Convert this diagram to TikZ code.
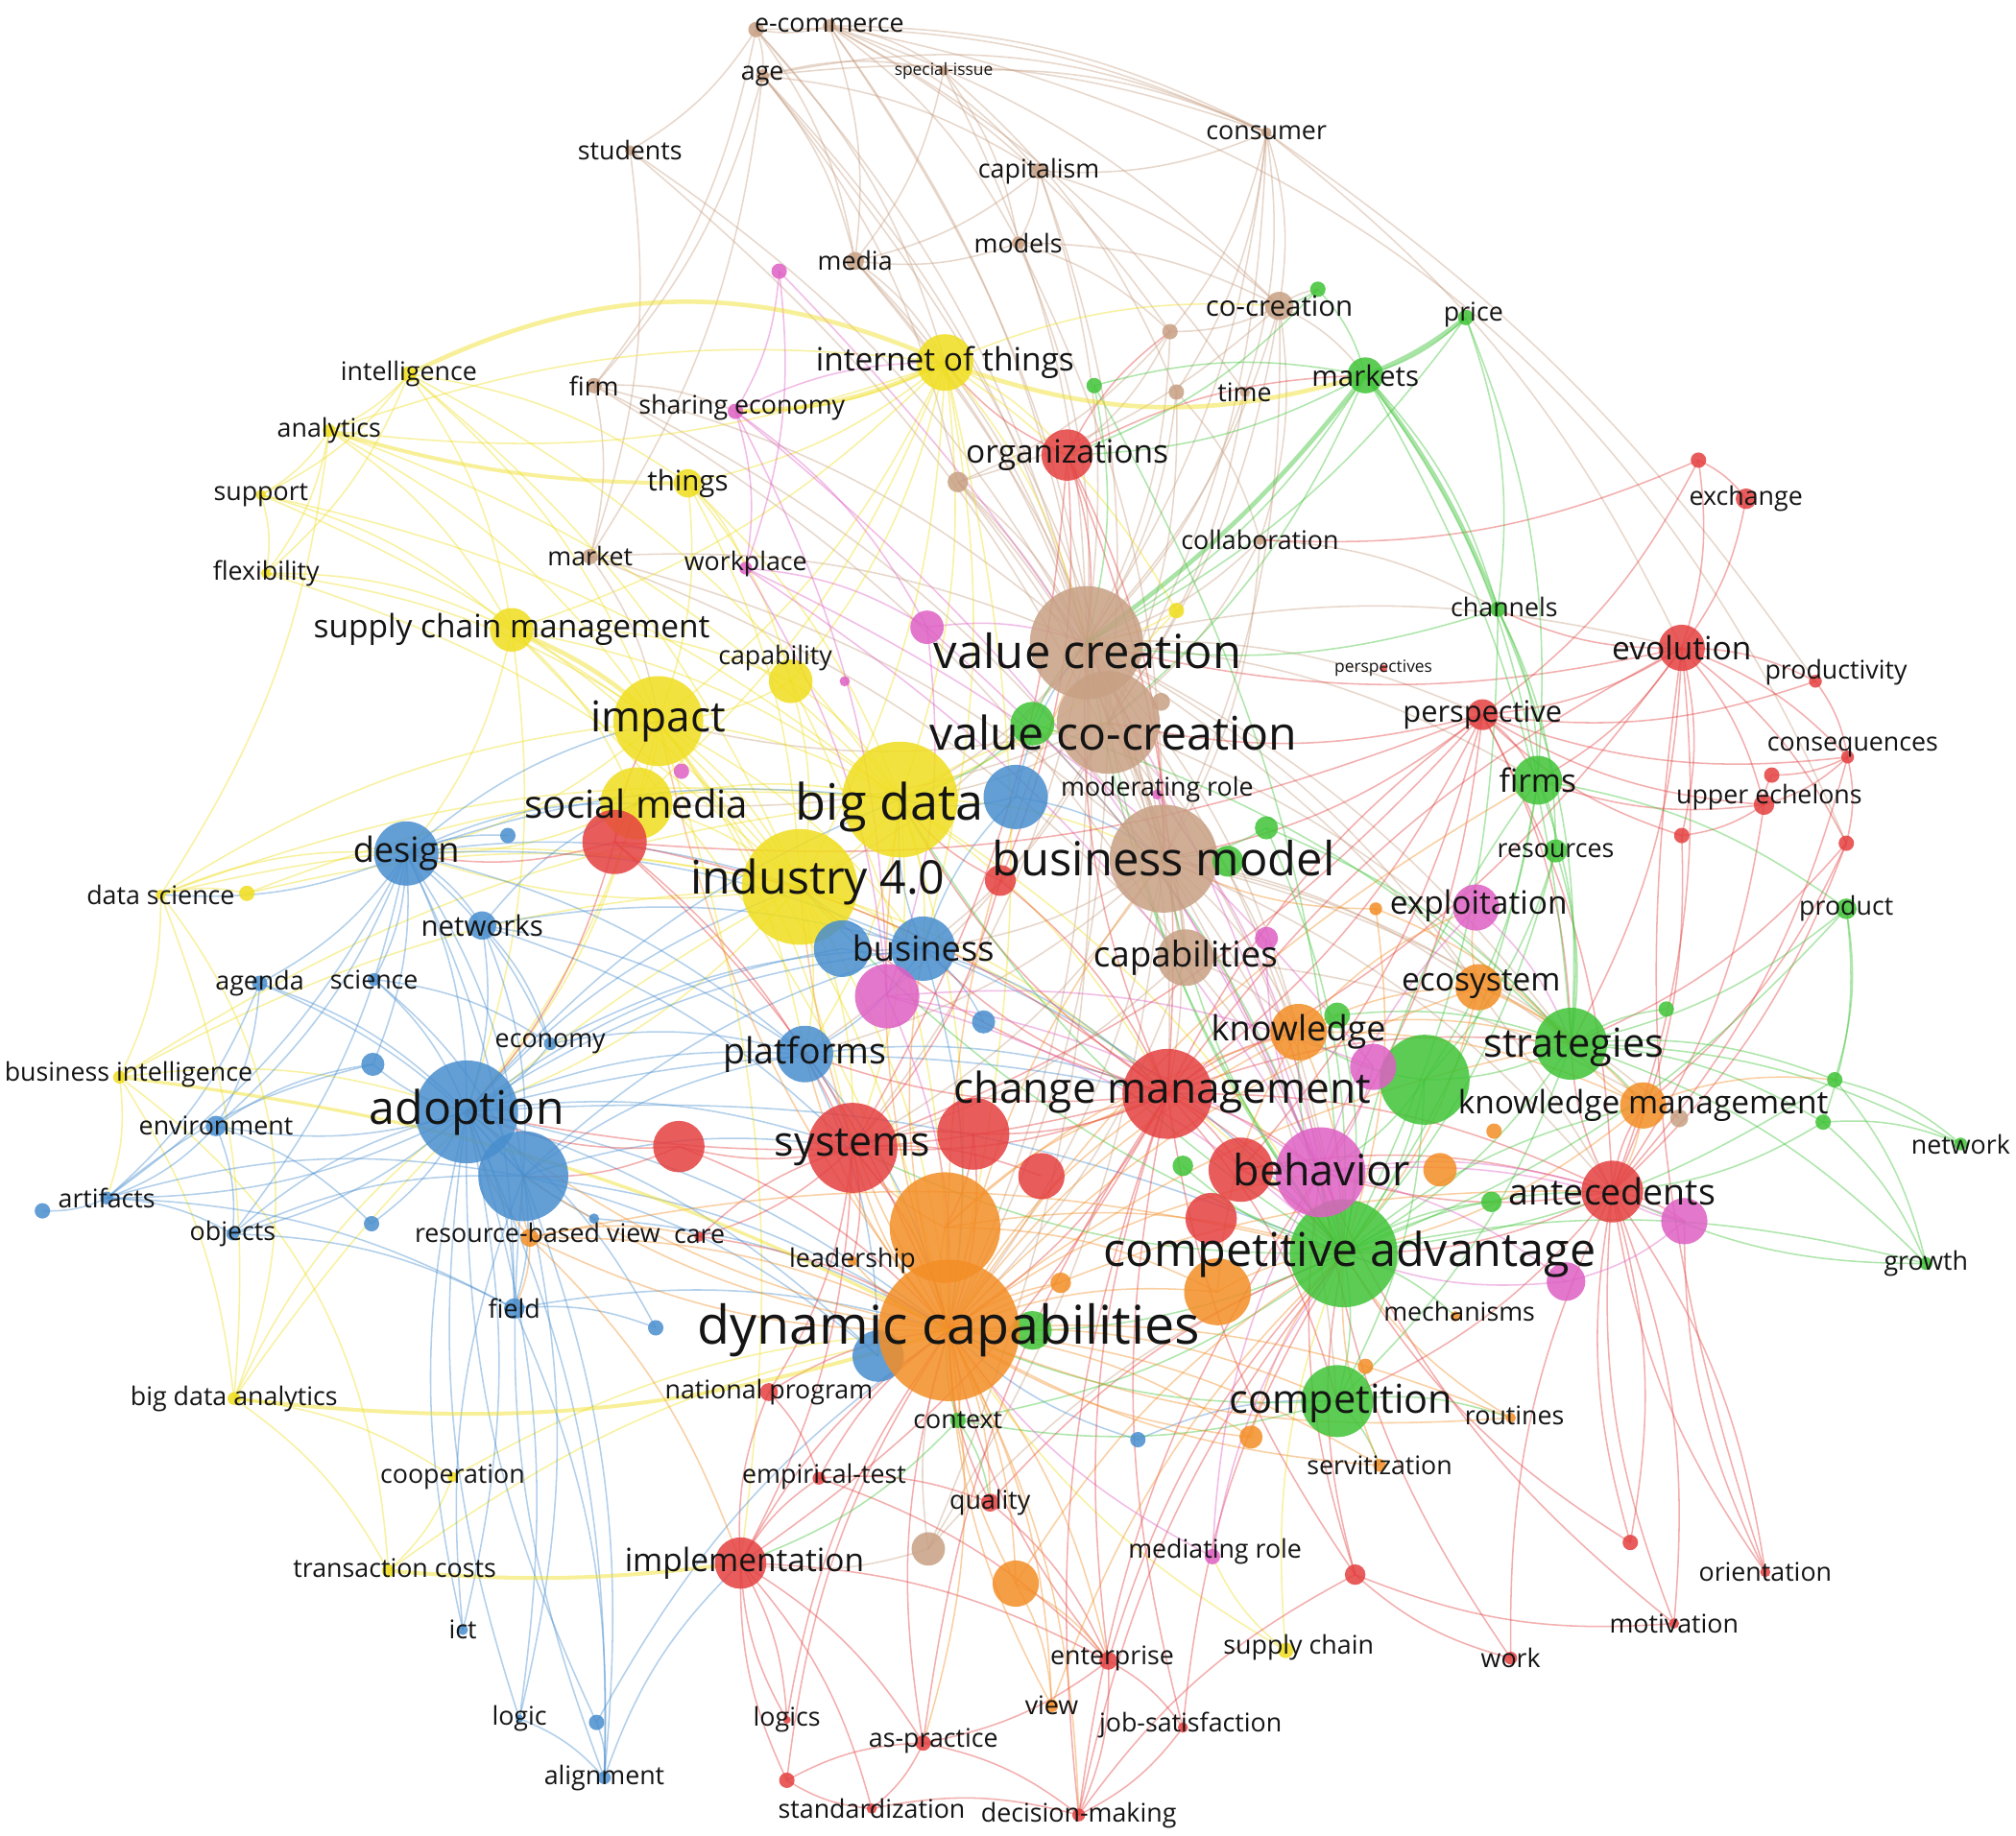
\documentclass[tikz,border=0pt]{standalone}
\usepackage{fontspec}
\setmainfont{Open Sans}
\definecolor{cR}{RGB}{228,64,64}
\definecolor{cG}{RGB}{64,196,56}
\definecolor{cB}{RGB}{72,142,206}
\definecolor{cY}{RGB}{240,222,30}
\definecolor{cM}{RGB}{222,96,196}
\definecolor{cO}{RGB}{243,142,38}
\definecolor{cN}{RGB}{200,160,132}
\pgfdeclarelayer{bg}\pgfdeclarelayer{fg}\pgfsetlayers{bg,main,fg}
\tikzset{
 vdot/.style={circle, inner sep=0pt, fill opacity=0.85, draw=none},
 lbl/.style={inner sep=0pt, text=black!92},
 lnk/.style={draw=#1, draw opacity=0.42, line width=1.15pt},
}
\newcommand\vc[5]{\node[vdot, fill=#5, minimum size={2*#4}] (#1) at (#2,#3) {};}
\newcommand\vl[5]{\begin{pgfonlayer}{fg}\node[lbl, font=\fontsize{#4}{#4}\selectfont] (#1) at (#2,#3) {#5};\end{pgfonlayer}}
\newcommand\vn[7]{\vc{#1}{#2}{#3}{#4}{#5}\vl{#1l}{#2}{#3}{#6}{#7}}
\newcommand\ed[3]{\begin{pgfonlayer}{bg}\foreach \tg in {#3} {\draw[lnk=#1] (#2.center) to[bend left=13] (\tg.center);}\end{pgfonlayer}}
\newcommand\thk[5]{\begin{pgfonlayer}{bg}\draw[lnk=#1, line width=#5, draw opacity=0.45] (#2.center) to[bend left=#4] (#3.center);\end{pgfonlayer}}
\newcommand\arc[4]{\begin{pgfonlayer}{bg}\draw[lnk=#1] (#2.center) to[bend left=#4] (#3.center);\end{pgfonlayer}}
\begin{document}
\begin{tikzpicture}[x=1pt,y=-1pt]
\begin{pgfonlayer}{bg}
\fill[white] (0,0) rectangle (1568,1428);
\end{pgfonlayer}
\useasboundingbox (0,0) rectangle (1568,1428);
% ---------- brown
\vc{b2}{588}{23}{6}{cN}
\vn{ecom}{645}{20}{5}{cN}{20}{e-commerce}
\vn{age}{593}{59}{5}{cN}{20}{age}
\vn{spec}{734}{55}{4}{cN}{13}{special-issue}
\vn{students}{490}{117}{4}{cN}{20}{students}
\vn{consumer}{985}{103}{4}{cN}{20}{consumer}
\vn{capit}{808}{133}{6}{cN}{20}{capitalism}
\vn{models}{792}{189}{5}{cN}{20}{models}
\vn{media}{665}{203}{7}{cN}{20}{media}
\vn{cocr}{995}{238}{11}{cN}{22}{co-creation}
\vc{b11}{910}{258}{6}{cN}
\vc{b12}{915}{305}{6}{cN}
\vn{time}{968}{305}{4}{cN}{20}{time}
\vn{firm}{462}{300}{6}{cN}{20}{firm}
\vn{market}{459}{433}{6}{cN}{20}{market}
\vc{b16}{745}{375}{8}{cN}
\vn{collab}{980}{420}{4}{cN}{20}{collaboration}
\vc{vc}{845}{500}{44}{cN}\vl{vcl}{846}{506}{36.5}{value creation}
\vc{vcc}{862}{562}{40}{cN}\vl{vccl}{866}{570}{36}{value co-creation}
\vc{b20}{903}{546}{7}{cN}
\vn{bm}{905}{668}{42}{cN}{36.5}{business model}
\vn{capab}{922}{745}{22}{cN}{27.5}{capabilities}
\vc{b23}{722}{1205}{13}{cN}
\vc{b24}{1306}{870}{7}{cN}
% ---------- yellow
\vn{iot}{735}{282}{22}{cY}{25}{internet of things}
\vn{intel}{318}{291}{6}{cY}{20}{intelligence}
\vn{analyt}{256}{335}{5}{cY}{20}{analytics}
\vn{support}{203}{385}{4}{cY}{20}{support}
\vn{flex}{207}{446}{4}{cY}{20}{flexibility}
\vn{things}{535}{376}{11}{cY}{22}{things}
\vn{scm}{398}{490}{17}{cY}{25}{supply chain management}
\vc{capy}{615}{530}{17}{cY}\vl{capyl}{603}{512}{20}{capability}
\vc{y9}{915}{475}{6}{cY}
\vn{impact}{512}{561}{35}{cY}{33}{impact}
\vn{smedia}{495}{625}{28}{cY}{30}{social media}
\vc{bigdata}{700}{622}{45}{cY}\vl{bigdatal}{692}{628}{39}{big data}
\vc{ind}{622}{690}{45}{cY}\vl{indl}{636}{686}{36}{industry 4.0}
\vn{dsci}{125}{696}{4}{cY}{20}{data science}
\vc{y14}{192}{695}{6}{cY}
\vc{bi}{93}{838}{5}{cY}\vl{bil}{100}{836}{20}{business intelligence}
\vn{bda}{182}{1088}{5}{cY}{20}{big data analytics}
\vn{coop}{352}{1149}{4}{cY}{20}{cooperation}
\vc{tc}{302}{1222}{5}{cY}\vl{tcl}{307}{1220}{20}{transaction costs}
\vc{sc}{1000}{1284}{6}{cY}\vl{scl}{1010}{1282}{20}{supply chain}
% ---------- blue
\vn{design}{316}{664}{25}{cB}{27}{design}
\vc{u2}{395}{650}{6}{cB}
\vn{netw}{375}{720}{11}{cB}{22}{networks}
\vn{agenda}{202}{765}{6}{cB}{20}{agenda}
\vn{science}{291}{762}{5}{cB}{20}{science}
\vn{economy}{428}{812}{5}{cB}{20}{economy}
\vc{u7}{290}{828}{9}{cB}
\vn{adoption}{363}{865}{40}{cB}{36}{adoption}
\vc{u9}{407}{915}{35}{cB}
\vn{env}{168}{876}{8}{cB}{20}{environment}
\vn{artif}{83}{932}{5}{cB}{20}{artifacts}
\vc{u12}{33}{942}{6}{cB}
\vn{objects}{181}{960}{5}{cB}{20}{objects}
\vc{u14}{289}{952}{6}{cB}
\vn{field}{400}{1018}{8}{cB}{20}{field}
\vc{u16}{462}{948}{4}{cB}
\vc{u17}{510}{1033}{6}{cB}
\vc{u18}{683}{1055}{20}{cB}
\vc{u20}{655}{738}{22}{cB}
\vn{business}{718}{738}{25}{cB}{27}{business}
\vc{u21}{790}{620}{25}{cB}
\vn{platf}{626}{820}{22}{cB}{28}{platforms}
\vc{u23}{765}{795}{9}{cB}
\vc{u24}{885}{1120}{6}{cB}
\vn{ict}{360}{1268}{4}{cB}{20}{ict}
\vn{logic}{404}{1337}{3}{cB}{20}{logic}
\vc{u27}{464}{1340}{6}{cB}
\vn{align}{470}{1383}{5}{cB}{20}{alignment}
% ---------- red
\vn{orgs}{830}{354}{20}{cR}{25}{organizations}
\vc{r2}{1321}{358}{6}{cR}
\vn{exch}{1358}{388}{8}{cR}{20}{exchange}
\vn{evol}{1308}{504}{18}{cR}{25}{evolution}
\vc{prod}{1412}{530}{5}{cR}\vl{prodl}{1428}{523}{20}{productivity}
\vc{conseq}{1437}{589}{5}{cR}\vl{conseql}{1441}{581}{20}{consequences}
\vc{r7}{1378}{603}{6}{cR}
\vc{upper}{1372}{626}{8}{cR}\vl{upperl}{1376}{620}{20}{upper echelons}
\vc{r8a}{1308}{650}{6}{cR}
\vc{r8b}{1436}{656}{6}{cR}
\vn{persp}{1153}{556}{12}{cR}{23}{perspective}
\vn{persps}{1076}{520}{3}{cR}{13}{perspectives}
\vc{r11}{478}{655}{25}{cR}
\vc{r12}{778}{685}{12}{cR}
\vc{chm}{908}{851}{35}{cR}\vl{chml}{904}{850}{33}{change management}
\vn{systems}{663}{893}{35}{cR}{32}{systems}
\vc{r15}{528}{892}{20}{cR}
\vc{r16}{757}{882}{28}{cR}
\vc{r16b}{810}{915}{18}{cR}
\vc{r17}{965}{910}{25}{cR}
\vc{r17b}{942}{948}{20}{cR}
\vn{antec}{1254}{927}{24}{cR}{28}{antecedents}
\vc{impl}{576}{1216}{20}{cR}\vl{impll}{579}{1216}{25}{implementation}
\vn{natp}{598}{1083}{7}{cR}{20}{national program}
\vc{empt}{637}{1150}{5}{cR}\vl{emptl}{641}{1149}{20}{empirical-test}
\vn{quality}{770}{1169}{7}{cR}{20}{quality}
\vc{enterp}{862}{1292}{7}{cR}\vl{enterpl}{865}{1290}{20}{enterprise}
\vc{jobs}{920}{1344}{4}{cR}\vl{jobsl}{926}{1342}{20}{job-satisfaction}
\vc{aspr}{718}{1356}{6}{cR}\vl{asprl}{726}{1354}{20}{as-practice}
\vn{logics}{612}{1338}{3}{cR}{20}{logics}
\vc{r26b}{612}{1385}{6}{cR}
\vn{stand}{678}{1407}{4}{cR}{20}{standardization}
\vn{decm}{839}{1412}{5}{cR}{20}{decision-making}
\vn{work}{1175}{1290}{5}{cR}{20}{work}
\vn{motiv}{1302}{1263}{4}{cR}{20}{motivation}
\vn{orient}{1373}{1223}{4}{cR}{20}{orientation}
\vc{r31}{1268}{1200}{6}{cR}
\vc{r31b}{1054}{1225}{8}{cR}
\vn{care}{544}{962}{4}{cR}{20}{care}
% ---------- green
\vc{g1}{1025}{225}{6}{cG}
\vc{price}{1140}{247}{6}{cG}\vl{pricel}{1146}{245}{20}{price}
\vc{g3}{851}{300}{6}{cG}
\vn{markets}{1062}{292}{14}{cG}{22}{markets}
\vc{channels}{1165}{474}{6}{cG}\vl{channelsl}{1170}{472}{20}{channels}
\vc{g6}{803}{563}{17}{cG}
\vn{firms}{1196}{607}{19}{cG}{25}{firms}
\vn{resources}{1210}{662}{9}{cG}{20}{resources}
\vc{g9}{985}{644}{9}{cG}
\vc{g9b}{955}{670}{12}{cG}
\vn{product}{1436}{707}{8}{cG}{20}{product}
\vc{g11}{1040}{790}{10}{cG}
\vc{strat}{1222}{812}{28}{cG}\vl{stratl}{1224}{815}{31}{strategies}
\vc{g13}{1108}{840}{35}{cG}
\vc{g14}{1296}{785}{6}{cG}
\vc{g15a}{1427}{840}{6}{cG}
\vc{g15b}{1418}{873}{6}{cG}
\vn{network}{1525}{890}{5}{cG}{20}{network}
\vc{g17}{920}{907}{8}{cG}
\vc{g18}{1160}{935}{8}{cG}
\vc{compadv}{1045}{975}{42}{cG}\vl{compadvl}{1050}{976}{36.2}{competitive advantage}
\vn{growth}{1498}{983}{5}{cG}{20}{growth}
\vc{compet}{1040}{1090}{28}{cG}\vl{competl}{1043}{1092}{31}{competition}
\vn{context}{745}{1105}{6}{cG}{20}{context}
\vc{g23}{803}{1035}{15}{cG}
% ---------- orange
\vn{knowl}{1010}{803}{22}{cO}{27}{knowledge}
\vc{ecos}{1150}{768}{18}{cO}\vl{ecosl}{1152}{766}{25}{ecosystem}
\vc{o3}{1070}{707}{5}{cO}
\vc{dyncap}{738}{1035}{55}{cO}
\vc{o5}{735}{955}{43}{cO}
\vc{o6}{947}{1005}{26}{cO}
\vc{o7}{825}{998}{8}{cO}
\vc{o8}{1120}{910}{13}{cO}
\vc{routines}{1175}{1103}{4}{cO}\vl{routinesl}{1178}{1101}{20}{routines}
\vn{servit}{1073}{1140}{5}{cO}{20}{servitization}
\vc{o11}{973}{1118}{9}{cO}
\vc{o12}{790}{1232}{18}{cO}
\vn{view}{818}{1327}{5}{cO}{20}{view}
\vc{rbv}{412}{963}{7}{cO}\vl{rbvl}{418}{959}{20}{resource-based view}
\vn{kmgmt}{1278}{860}{18}{cO}{25}{knowledge management}
\vc{o16}{1162}{880}{6}{cO}
\vc{mech}{1132}{1024}{4}{cO}\vl{mechl}{1135}{1020}{20}{mechanisms}
\vc{o18}{1062}{1063}{6}{cO}
\vn{leader}{663}{981}{4}{cO}{20}{leadership}
% ---------- magenta
\vc{m1}{606}{211}{6}{cM}
\vc{sharing}{572}{320}{6}{cM}\vl{sharingl}{577}{317}{20}{sharing economy}
\vc{workpl}{580}{442}{5}{cM}\vl{workpll}{580}{439}{20}{workplace}
\vc{m4}{721}{488}{13}{cM}
\vc{m5}{657}{530}{4}{cM}
\vc{m5b}{530}{600}{6}{cM}
\vc{m6}{690}{775}{25}{cM}
\vc{exploit}{1148}{706}{18}{cM}\vl{exploitl}{1150}{705}{25}{exploitation}
\vc{m8}{985}{730}{9}{cM}
\vc{m9}{1068}{830}{18}{cM}
\vc{behav}{1027}{912}{35}{cM}\vl{behavl}{1028}{910}{33.5}{behavior}
\vc{m11}{1310}{950}{18}{cM}
\vc{m12}{1218}{997}{15}{cM}
\vc{medr}{943}{1211}{6}{cM}\vl{medrl}{945}{1207}{20}{mediating role}
\vc{modr}{900}{618}{4}{cM}\vl{modrl}{900}{614}{20}{moderating role}
\vl{dyncapl}{738}{1035}{41.5}{dynamic capabilities}
% ================= edges
% brown
\ed{cN}{ecom}{b2,consumer,capit,models,vc,cocr,b11,time,spec,vcc,media}
\ed{cN}{b2}{age,students,media,firm,consumer,vc,iot}
\ed{cN}{age}{spec,consumer,market,media,vc,b16,capit,firm,bm}
\ed{cN}{spec}{consumer,models,vc,media,b12}
\ed{cN}{students}{market,vc,bm}
\ed{cN}{consumer}{cocr,b11,b12,time,vc,vcc,capit,evol}
\ed{cN}{capit}{models,vc,vcc,media,cocr}
\ed{cN}{models}{media,cocr,vc,bm,b11}
\ed{cN}{media}{vc,vcc,bm,iot}
\ed{cN}{cocr}{vc,vcc,bm,b11,b16,collab,markets,g1}
\ed{cN}{b11}{vc,orgs,b16}
\ed{cN}{b12}{vc,vcc,collab}
\ed{cN}{time}{vc,vcc}
\ed{cN}{firm}{market,vc,bm,sharing,capab}
\ed{cN}{market}{vc,bm,capab,impact}
\ed{cN}{b16}{vc,vcc,bm,capab}
\ed{cN}{collab}{vc,vcc,bm,channels}
\ed{cN}{vc}{vcc,bm,capab,dyncap,compadv,chm,strat,bigdata,ind,persp,evol,firms,knowl,systems,b23,ecos,antec}
\ed{cN}{vcc}{bm,capab,dyncap,compadv,platf,business,bigdata,impact,smedia,knowl,strat}
\ed{cN}{bm}{capab,dyncap,compadv,chm,systems,knowl,strat,antec,ecos,compet,b23,b24,platf,business}
\ed{cN}{capab}{dyncap,compadv,knowl,b24,systems}
\ed{cN}{b23}{dyncap,impl,compadv}
\arc{cN}{ecom}{r8b}{28}
\arc{cN}{consumer}{prod}{10}
\arc{cN}{age}{consumer}{18}
% yellow
\ed{cY}{iot}{things,analyt,sharing,bigdata,ind,impact,smedia,capy,scm,cocr,y9,orgs,business,dyncap,vc}
\ed{cY}{intel}{analyt,support,things,scm,bigdata,impact,ind,flex}
\ed{cY}{analyt}{support,flex,scm,bigdata,impact,iot,dsci}
\ed{cY}{support}{flex,scm,ind,bigdata}
\ed{cY}{flex}{scm,ind,impact}
\ed{cY}{things}{ind,bigdata,impact,capy,workpl}
\ed{cY}{scm}{bigdata,ind,capy,smedia,design,adoption,dyncap}
\ed{cY}{capy}{bigdata,ind,impact,dyncap}
\ed{cY}{impact}{bigdata,ind,smedia,adoption,design,dyncap,systems,business,platf,impl}
\ed{cY}{smedia}{bigdata,ind,adoption,design}
\ed{cY}{bigdata}{ind,dyncap,business,platf,compadv,chm,bm,systems,vcc}
\ed{cY}{ind}{dyncap,business,platf,systems,compadv,adoption,design,chm}
\ed{cY}{dsci}{y14,bda,bi,design,bigdata,ind,impact}
\ed{cY}{y14}{bigdata,ind}
\ed{cY}{bi}{bda,adoption,ind,bigdata,artif}
\ed{cY}{bda}{ind,adoption,coop,tc}
\ed{cY}{coop}{dyncap,tc}
\ed{cY}{tc}{dyncap}
\ed{cY}{sc}{compadv,dyncap,medr}
\ed{cY}{y9}{vc,bigdata}
\arc{cY}{dsci}{bda}{30}
\arc{cY}{bi}{tc}{25}
% blue
\ed{cB}{design}{u2,netw,agenda,science,adoption,u9,env,artif,objects,u7,dsci,impact,smedia,ind,bigdata,business,platf,field,economy}
\ed{cB}{netw}{adoption,u9,business,platf,economy,smedia,systems}
\ed{cB}{agenda}{adoption,u9,env,artif}
\ed{cB}{science}{adoption,u9,economy}
\ed{cB}{economy}{adoption,platf,business}
\ed{cB}{adoption}{u9,env,artif,objects,u7,u14,field,business,platf,u20,ind,bigdata,systems,dyncap,u17,u18,logic,align,ict,chm,compadv}
\ed{cB}{u9}{field,business,platf,dyncap,systems,u18,align,logic}
\ed{cB}{env}{artif,objects,u14,u7}
\ed{cB}{artif}{u12,objects,u9,u7,field}
\ed{cB}{objects}{adoption,u9,field}
\ed{cB}{field}{dyncap,align,u17}
\ed{cB}{business}{u20,platf,u21,bigdata,ind,dyncap,chm,compadv,u23}
\ed{cB}{u21}{bigdata,vc,bm}
\ed{cB}{platf}{systems,dyncap,u18,chm}
\ed{cB}{u24}{dyncap,compet}
\ed{cB}{ict}{adoption,u9}
\ed{cB}{logic}{align,adoption}
\ed{cB}{u27}{align,adoption,dyncap}
\ed{cB}{align}{u9,impl}
\ed{cB}{u16}{adoption,dyncap}
% red
\ed{cR}{orgs}{b11,iot,vc,bm,chm,systems,r12,markets}
\ed{cR}{r2}{exch,evol,persp,collab}
\ed{cR}{exch}{evol}
\ed{cR}{evol}{prod,persp,upper,conseq,r8a,r8b,antec,chm,strat,channels,vc,firms}
\ed{cR}{prod}{persp,conseq}
\ed{cR}{conseq}{upper,r7,r8b,antec,persp}
\ed{cR}{upper}{r7,antec,persp,firms,r8a}
\ed{cR}{r8a}{antec,persp}
\ed{cR}{r8b}{antec,strat,kmgmt}
\ed{cR}{persp}{chm,bm,antec,strat,firms,vcc,r11,systems,behav,r17}
\ed{cR}{r11}{smedia,design,adoption,systems,chm,impact,dyncap}
\ed{cR}{r12}{systems,chm,bigdata}
\ed{cR}{chm}{systems,r16,behav,antec,compadv,dyncap,knowl,strat,r17,compet,impl,bigdata,ind,business,platf,adoption,vc,persp,evol}
\ed{cR}{systems}{r15,r16,r16b,dyncap,impl,leader,care,natp}
\ed{cR}{r15}{adoption,dyncap,u9}
\ed{cR}{r16}{dyncap,o5}
\ed{cR}{r17}{behav,compadv,antec}
\ed{cR}{antec}{behav,compadv,strat,m11,orient,motiv,r31,kmgmt,compet}
\ed{cR}{impl}{dyncap,aspr,logics,stand,enterp,natp,empt}
\ed{cR}{natp}{dyncap,empt}
\ed{cR}{empt}{quality,enterp,dyncap}
\ed{cR}{quality}{enterp,dyncap,compadv}
\ed{cR}{enterp}{decm,jobs,dyncap,chm,aspr,compadv}
\ed{cR}{jobs}{decm,compadv,chm}
\ed{cR}{aspr}{decm,stand,dyncap,chm}
\ed{cR}{stand}{decm,r26b}
\ed{cR}{r26b}{impl,aspr,dyncap}
\ed{cR}{decm}{chm,compadv,r31b,behav}
\ed{cR}{work}{antec,behav,r31b}
\ed{cR}{motiv}{antec,r31b,behav}
\ed{cR}{orient}{antec,m11,evol}
\ed{cR}{r31}{antec,compadv}
\ed{cR}{r31b}{compadv,chm,behav}
\ed{cR}{care}{systems,dyncap}
\ed{cR}{logics}{impl,dyncap}
% green
\ed{cG}{g1}{cocr,markets,orgs}
\ed{cG}{price}{markets,channels,vc,firms}
\ed{cG}{markets}{channels,firms,vc,vcc,strat,orgs}
\ed{cG}{g3}{vc,compadv,markets}
\ed{cG}{channels}{firms,strat,resources,compadv,vc}
\ed{cG}{g6}{compadv,bigdata,vc,strat}
\ed{cG}{firms}{resources,strat,compadv,g13,product}
\ed{cG}{resources}{strat,compadv,g13}
\ed{cG}{product}{strat,g15a,g15b,compadv}
\ed{cG}{strat}{g13,compadv,kmgmt,network,g15a,g15b,growth,g14,compet}
\ed{cG}{g13}{compadv,knowl,compet,behav}
\ed{cG}{g15a}{network,growth,compadv}
\ed{cG}{g15b}{network,growth,antec}
\ed{cG}{compadv}{compet,dyncap,behav,knowl,g17,g18,context,growth,mech,bm,vc,vcc,bigdata,ind,systems,firms,antec,kmgmt}
\ed{cG}{compet}{dyncap,context,servit,routines}
\ed{cG}{context}{dyncap,quality,impl}
\ed{cG}{growth}{antec}
\ed{cG}{g9}{bm,compadv,strat}
\ed{cG}{g11}{compadv,knowl,strat}
% orange
\ed{cO}{dyncap}{o5,o6,o7,knowl,ecos,compet,o12,view,routines,servit,o11,rbv,leader,context,chm,behav,adoption,u9,systems,platf,business,bigdata,ind,impact,bm,vc,antec,strat,firms,quality,enterp,decm,aspr}
\ed{cO}{o5}{systems,o6,knowl,chm,compadv}
\ed{cO}{o6}{compadv,knowl}
\ed{cO}{knowl}{ecos,compadv,kmgmt,strat,exploit}
\ed{cO}{ecos}{exploit,compadv,strat,kmgmt}
\ed{cO}{kmgmt}{compadv,antec,strat,g15a}
\ed{cO}{rbv}{adoption,u9,dyncap,field,care,compadv,impl}
\ed{cO}{o12}{compadv,view,enterp,dyncap}
\ed{cO}{view}{dyncap,compadv}
\ed{cO}{routines}{dyncap,compadv}
\ed{cO}{servit}{dyncap,compadv}
\ed{cO}{o11}{dyncap,compadv}
\ed{cO}{o3}{bm,strat,compadv}
% magenta
\ed{cM}{m1}{sharing,workpl,behav}
\ed{cM}{sharing}{workpl,m4,behav,iot,m6}
\ed{cM}{workpl}{m4,m6,behav,m9}
\ed{cM}{m4}{m6,behav,vc}
\ed{cM}{m6}{behav,compadv,dyncap,m9}
\ed{cM}{m9}{behav}
\ed{cM}{behav}{m11,m12,compadv,antec,exploit,m8}
\ed{cM}{exploit}{strat}
\ed{cM}{m11}{m12,antec}
\ed{cM}{m12}{compadv}
\ed{cM}{medr}{behav,compadv,dyncap}
\ed{cM}{modr}{behav,bm}
% thick links
\thk{cY}{intel}{iot}{25}{3.5pt}
\thk{cY}{analyt}{things}{-8}{3pt}
\thk{cY}{sharing}{iot}{-12}{3.5pt}
\thk{cY}{scm}{impact}{10}{3.5pt}
\thk{cY}{iot}{markets}{-18}{3.5pt}
\thk{cY}{bda}{dyncap}{-12}{3pt}
\thk{cY}{bi}{dyncap}{10}{2.5pt}
\thk{cY}{tc}{impl}{-6}{3pt}
\thk{cG}{markets}{price}{-8}{3.5pt}
\thk{cG}{markets}{vc}{8}{3.5pt}
\thk{cG}{markets}{channels}{8}{3pt}
\end{tikzpicture}
\end{document}
